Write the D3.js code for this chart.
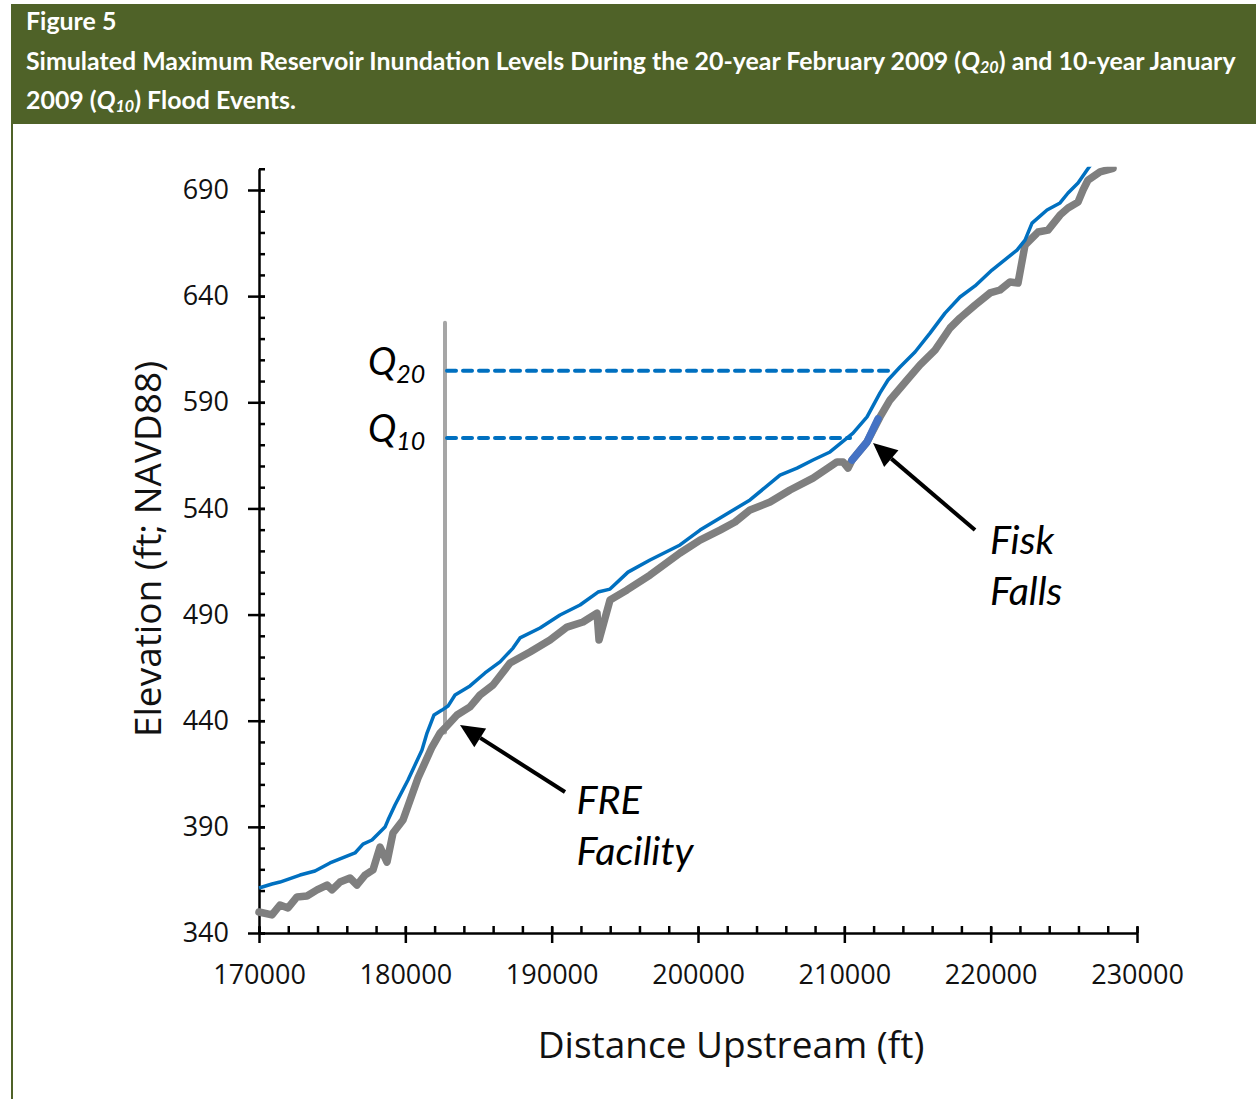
<!DOCTYPE html>
<html>
<head>
<meta charset="utf-8">
<script src="https://cdn.jsdelivr.net/npm/d3@7"></script>
<style>
  body { margin: 0; background: #ffffff; }
  svg { display: block; }
</style>
</head>
<body>
<svg id="chart" width="1256" height="1099"></svg>
<script>
// Simulated maximum water surface (Q20 event) along the reservoir reach
const distQ20 = [170000, 170888, 171435, 172802, 173827, 174852, 175535, 176560, 177107, 177722,
  178269, 178611, 178816, 179294, 180183, 181139, 181481, 181960, 182506, 182916,
  183395, 184420, 185445, 186470, 187358, 187837, 189204, 190571, 191938, 193168,
  193988, 195218, 196722, 198772, 200139, 201505, 203556, 205605, 206767, 207860,
  209022, 210594, 211551, 212439, 212986, 213806, 214831, 215856, 216881, 217906,
  218931, 220093, 221801, 222348, 222826, 223851, 224740, 225287, 225970, 226585, 226927];
const elevQ20 = [361.2, 363.1, 364.0, 367.3, 369.2, 373.0, 374.9, 377.7, 381.9, 383.8,
  387.6, 389.9, 393.2, 400.3, 412.1, 426.2, 434.2, 442.7, 445.0, 446.9,
  452.1, 456.4, 462.5, 467.7, 474.2, 479.0, 483.7, 489.8, 494.5, 500.6,
  502.0, 510.0, 515.7, 522.8, 529.8, 535.5, 544.0, 555.7, 559.0, 562.8,
  566.6, 575.5, 583.1, 594.4, 600.5, 606.6, 613.7, 622.6, 632.0, 639.6,
  644.8, 652.3, 661.7, 666.4, 674.4, 680.6, 683.9, 688.6, 693.3, 699.4, 702.7];

// Channel bed profile
const distBed = [170000, 170888, 171435, 171982, 172597, 173280, 173964, 174647, 174989, 175535,
  176219, 176697, 177244, 177791, 178269, 178748, 179158, 179841, 180866, 181823,
  182370, 182711, 183531, 184420, 185103, 185992, 187153, 188520, 189887, 191049,
  192142, 193099, 193236, 193988, 195150, 196722, 198772, 200139, 201505, 202531,
  203556, 204923, 206290, 207860, 209500, 209910, 210252, 210526, 211551, 212439,
  213123, 214284, 215173, 216198, 217223, 217906, 218931, 219956, 220640, 221323,
  221870, 222348, 223237, 223920, 224740, 225287, 225970, 226312, 226654, 227474, 228362];
const elevBed = [349.9, 348.5, 353.2, 351.8, 357.0, 357.4, 360.3, 362.6, 360.3, 364.0,
  365.9, 362.6, 367.3, 369.7, 380.5, 373.4, 387.1, 393.2, 413.0, 427.6,
  434.2, 436.6, 442.7, 446.5, 452.1, 456.8, 467.2, 472.4, 478.0, 484.1,
  486.5, 490.7, 478.0, 496.9, 501.6, 508.6, 519.0, 525.1, 529.8, 533.6,
  539.3, 543.0, 548.7, 554.3, 561.9, 561.9, 559.0, 562.8, 571.3, 583.1,
  591.1, 600.5, 607.6, 614.6, 625.0, 629.7, 635.8, 641.5, 642.9, 646.7,
  646.2, 664.1, 670.2, 671.1, 678.2, 681.5, 684.3, 690.0, 694.7, 698.5, 700.2];

// Fisk Falls section of the bed
const distFalls = [210526, 211551, 212302];
const elevFalls = [562.8, 571.3, 582.2];

// FRE facility location and the two peak pool levels
const facilityDist = 182711;
const facilityTop = 627.5;
const facilityBottom = 434.5;
const q20Level = 604.8, q20End = 213330;
const q10Level = 573.2, q10End = 210390;

// Axis ticks
const yTicks = [340, 390, 440, 490, 540, 590, 640, 690];
const yMinor = d3.range(340, 701, 10);
const xTicks = [170000, 180000, 190000, 200000, 210000, 220000, 230000];
const xMinor = d3.range(170000, 230001, 2000);

const olive = "#4F6228";
const svg = d3.select("#chart");

// ---- header band and frame ----
svg.append("rect").attr("x", 11).attr("y", 4).attr("width", 1245).attr("height", 120).attr("fill", olive);
svg.append("line").attr("x1", 12).attr("x2", 12).attr("y1", 4).attr("y2", 1099)
  .attr("stroke", olive).attr("stroke-width", 2);

const titleFont = "Lato, 'Open Sans', sans-serif";
const header = svg.append("g").attr("font-family", titleFont).attr("font-weight", "bold").attr("fill", "#ffffff");

header.append("text").attr("x", 26).attr("y", 30).text("Figure 5");
const l2 = header.append("text").attr("x", 26).attr("y", 70);
l2.append("tspan").text("Simulated Maximum Reservoir Inundation Levels During the 20-year February 2009 (");
l2.append("tspan").attr("font-style", "italic").text("Q");
l2.append("tspan").attr("class", "sub").attr("font-style", "italic").attr("dy", 3).text("20");
l2.append("tspan").attr("dy", -3).text(") and 10-year January");
const l3 = header.append("text").attr("x", 26).attr("y", 109);
l3.append("tspan").text("2009 (");
l3.append("tspan").attr("font-style", "italic").text("Q");
l3.append("tspan").attr("class", "sub").attr("font-style", "italic").attr("dy", 3).text("10");
l3.append("tspan").attr("dy", -3).text(") Flood Events.");

// size the header type so the long line spans the band
header.selectAll("text").attr("font-size", 20);
header.selectAll("tspan.sub").attr("font-size", 13);
const w = l2.node().getComputedTextLength();
const fs = 20 * 1210 / w;
header.selectAll("text").attr("font-size", fs);
header.selectAll("tspan.sub").attr("font-size", fs * 0.65);

// ---- scales ----
const x = d3.scaleLinear().domain([170000, 230000]).range([259, 1137]);
const y = d3.scaleLinear().domain([340, 700]).range([933, 933 - 360 * 743 / 350]);

const axisFont = "'Open Sans', 'Noto Sans', sans-serif";
const inkColor = "#111";

// ---- y axis ----
const yMinorG = svg.append("g").attr("transform", `translate(${x(170000)},0)`)
  .call(d3.axisLeft(y).tickValues(yMinor).tickSize(-6).tickSizeOuter(0).tickFormat(""));
yMinorG.select(".domain").remove();
const yAx = svg.append("g").attr("transform", `translate(${x(170000)},0)`)
  .call(d3.axisLeft(y).tickValues(yTicks).tickSize(11).tickSizeOuter(0).tickPadding(19));
yAx.selectAll(".tick line").attr("x1", 6).attr("x2", -11);
yAx.selectAll(".tick text").attr("font-size", 27).attr("font-family", axisFont).attr("fill", inkColor);

// ---- x axis ----
const xMinorG = svg.append("g").attr("transform", `translate(0,${y(340)})`)
  .call(d3.axisBottom(x).tickValues(xMinor).tickSize(-7).tickSizeOuter(0).tickFormat(""));
xMinorG.select(".domain").remove();
const xAx = svg.append("g").attr("transform", `translate(0,${y(340)})`)
  .call(d3.axisBottom(x).tickValues(xTicks).tickSize(10).tickSizeOuter(0).tickPadding(22).tickFormat(d3.format("d")));
xAx.selectAll(".tick line").attr("y1", -6).attr("y2", 10);
xAx.selectAll(".tick text").attr("font-size", 27).attr("font-family", axisFont).attr("fill", inkColor);

svg.selectAll(".domain, .tick line").attr("stroke", "#000").attr("stroke-width", 2.5);

// ---- axis titles ----
svg.append("text").attr("transform", `translate(161,549) rotate(-90)`)
  .attr("text-anchor", "middle").attr("font-family", axisFont).attr("font-size", 37).attr("fill", inkColor)
  .text("Elevation (ft; NAVD88)");
svg.append("text").attr("x", 731).attr("y", 1058)
  .attr("text-anchor", "middle").attr("font-family", axisFont).attr("font-size", 37).attr("fill", inkColor)
  .text("Distance Upstream (ft)");

// ---- plot contents ----
svg.append("clipPath").attr("id", "plotClip").append("rect")
  .attr("x", 250).attr("y", y(700) - 2).attr("width", 900).attr("height", y(340) - y(700) + 10);
const plot = svg.append("g").attr("clip-path", "url(#plotClip)");

const line = d3.line().x(d => x(d[0])).y(d => y(d[1]));

// FRE facility marker
plot.append("line")
  .attr("x1", x(facilityDist)).attr("x2", x(facilityDist))
  .attr("y1", y(facilityTop)).attr("y2", y(facilityBottom))
  .attr("stroke", "#A6A6A6").attr("stroke-width", 4).attr("stroke-linecap", "round");

// channel bed
plot.append("path").datum(d3.zip(distBed, elevBed)).attr("d", line)
  .attr("fill", "none").attr("stroke", "#7F7F7F").attr("stroke-width", 7.5)
  .attr("stroke-linejoin", "round").attr("stroke-linecap", "round");

// Fisk Falls reach
plot.append("path").datum(d3.zip(distFalls, elevFalls)).attr("d", line)
  .attr("fill", "none").attr("stroke", "#4472C4").attr("stroke-width", 7.5)
  .attr("stroke-linejoin", "round").attr("stroke-linecap", "round");

// water surface
plot.append("path").datum(d3.zip(distQ20, elevQ20)).attr("d", line)
  .attr("fill", "none").attr("stroke", "#0070C0").attr("stroke-width", 3.5)
  .attr("stroke-linejoin", "round");

// pool levels
[[q20Level, q20End], [q10Level, q10End]].forEach(([lvl, end]) => {
  plot.append("line")
    .attr("x1", x(facilityDist) + 2).attr("x2", x(end))
    .attr("y1", y(lvl)).attr("y2", y(lvl))
    .attr("stroke", "#0070C0").attr("stroke-width", 4)
    .attr("stroke-dasharray", "9 7").attr("stroke-linecap", "round");
});

// pool level labels
const labelFont = "Lato, 'Open Sans', sans-serif";
[["20", q20Level], ["10", q10Level]].forEach(([sub, lvl]) => {
  const t = svg.append("text").attr("x", 368).attr("y", y(lvl) + 4)
    .attr("font-family", labelFont).attr("font-style", "italic").attr("font-size", 38).attr("fill", "#000");
  t.append("tspan").text("Q");
  t.append("tspan").attr("dy", 8).attr("font-size", 25).text(sub);
});

// arrows
function arrow(from, to) {
  const x0 = x(from[0]), y0 = y(from[1]), x1 = x(to[0]), y1 = y(to[1]);
  const a = Math.atan2(y1 - y0, x1 - x0);
  const hl = 24, hw = 11;
  const bx = x1 - hl * Math.cos(a), by = y1 - hl * Math.sin(a);
  svg.append("line").attr("x1", x0).attr("y1", y0).attr("x2", bx).attr("y2", by)
    .attr("stroke", "#000").attr("stroke-width", 4);
  const pts = [[x1, y1],
    [bx + hw * Math.sin(a), by - hw * Math.cos(a)],
    [bx - hw * Math.sin(a), by + hw * Math.cos(a)]];
  svg.append("polygon").attr("points", pts.map(p => p.join(",")).join(" ")).attr("fill", "#000");
}
arrow([190911, 406.4], [183736, 438.0]);
arrow([218931, 529.8], [211961, 570.8]);

// annotation text
function note(lines, xv, yv) {
  const t = svg.append("text").attr("font-family", labelFont).attr("font-style", "italic")
    .attr("font-size", 39.5).attr("fill", "#000");
  lines.forEach((s, i) => t.append("tspan").attr("x", x(xv)).attr("y", y(yv) + i * 51).text(s));
}
note(["FRE", "Facility"], 191700, 396);
note(["Fisk", "Falls"], 219950, 518.5);
</script>
</body>
</html>
